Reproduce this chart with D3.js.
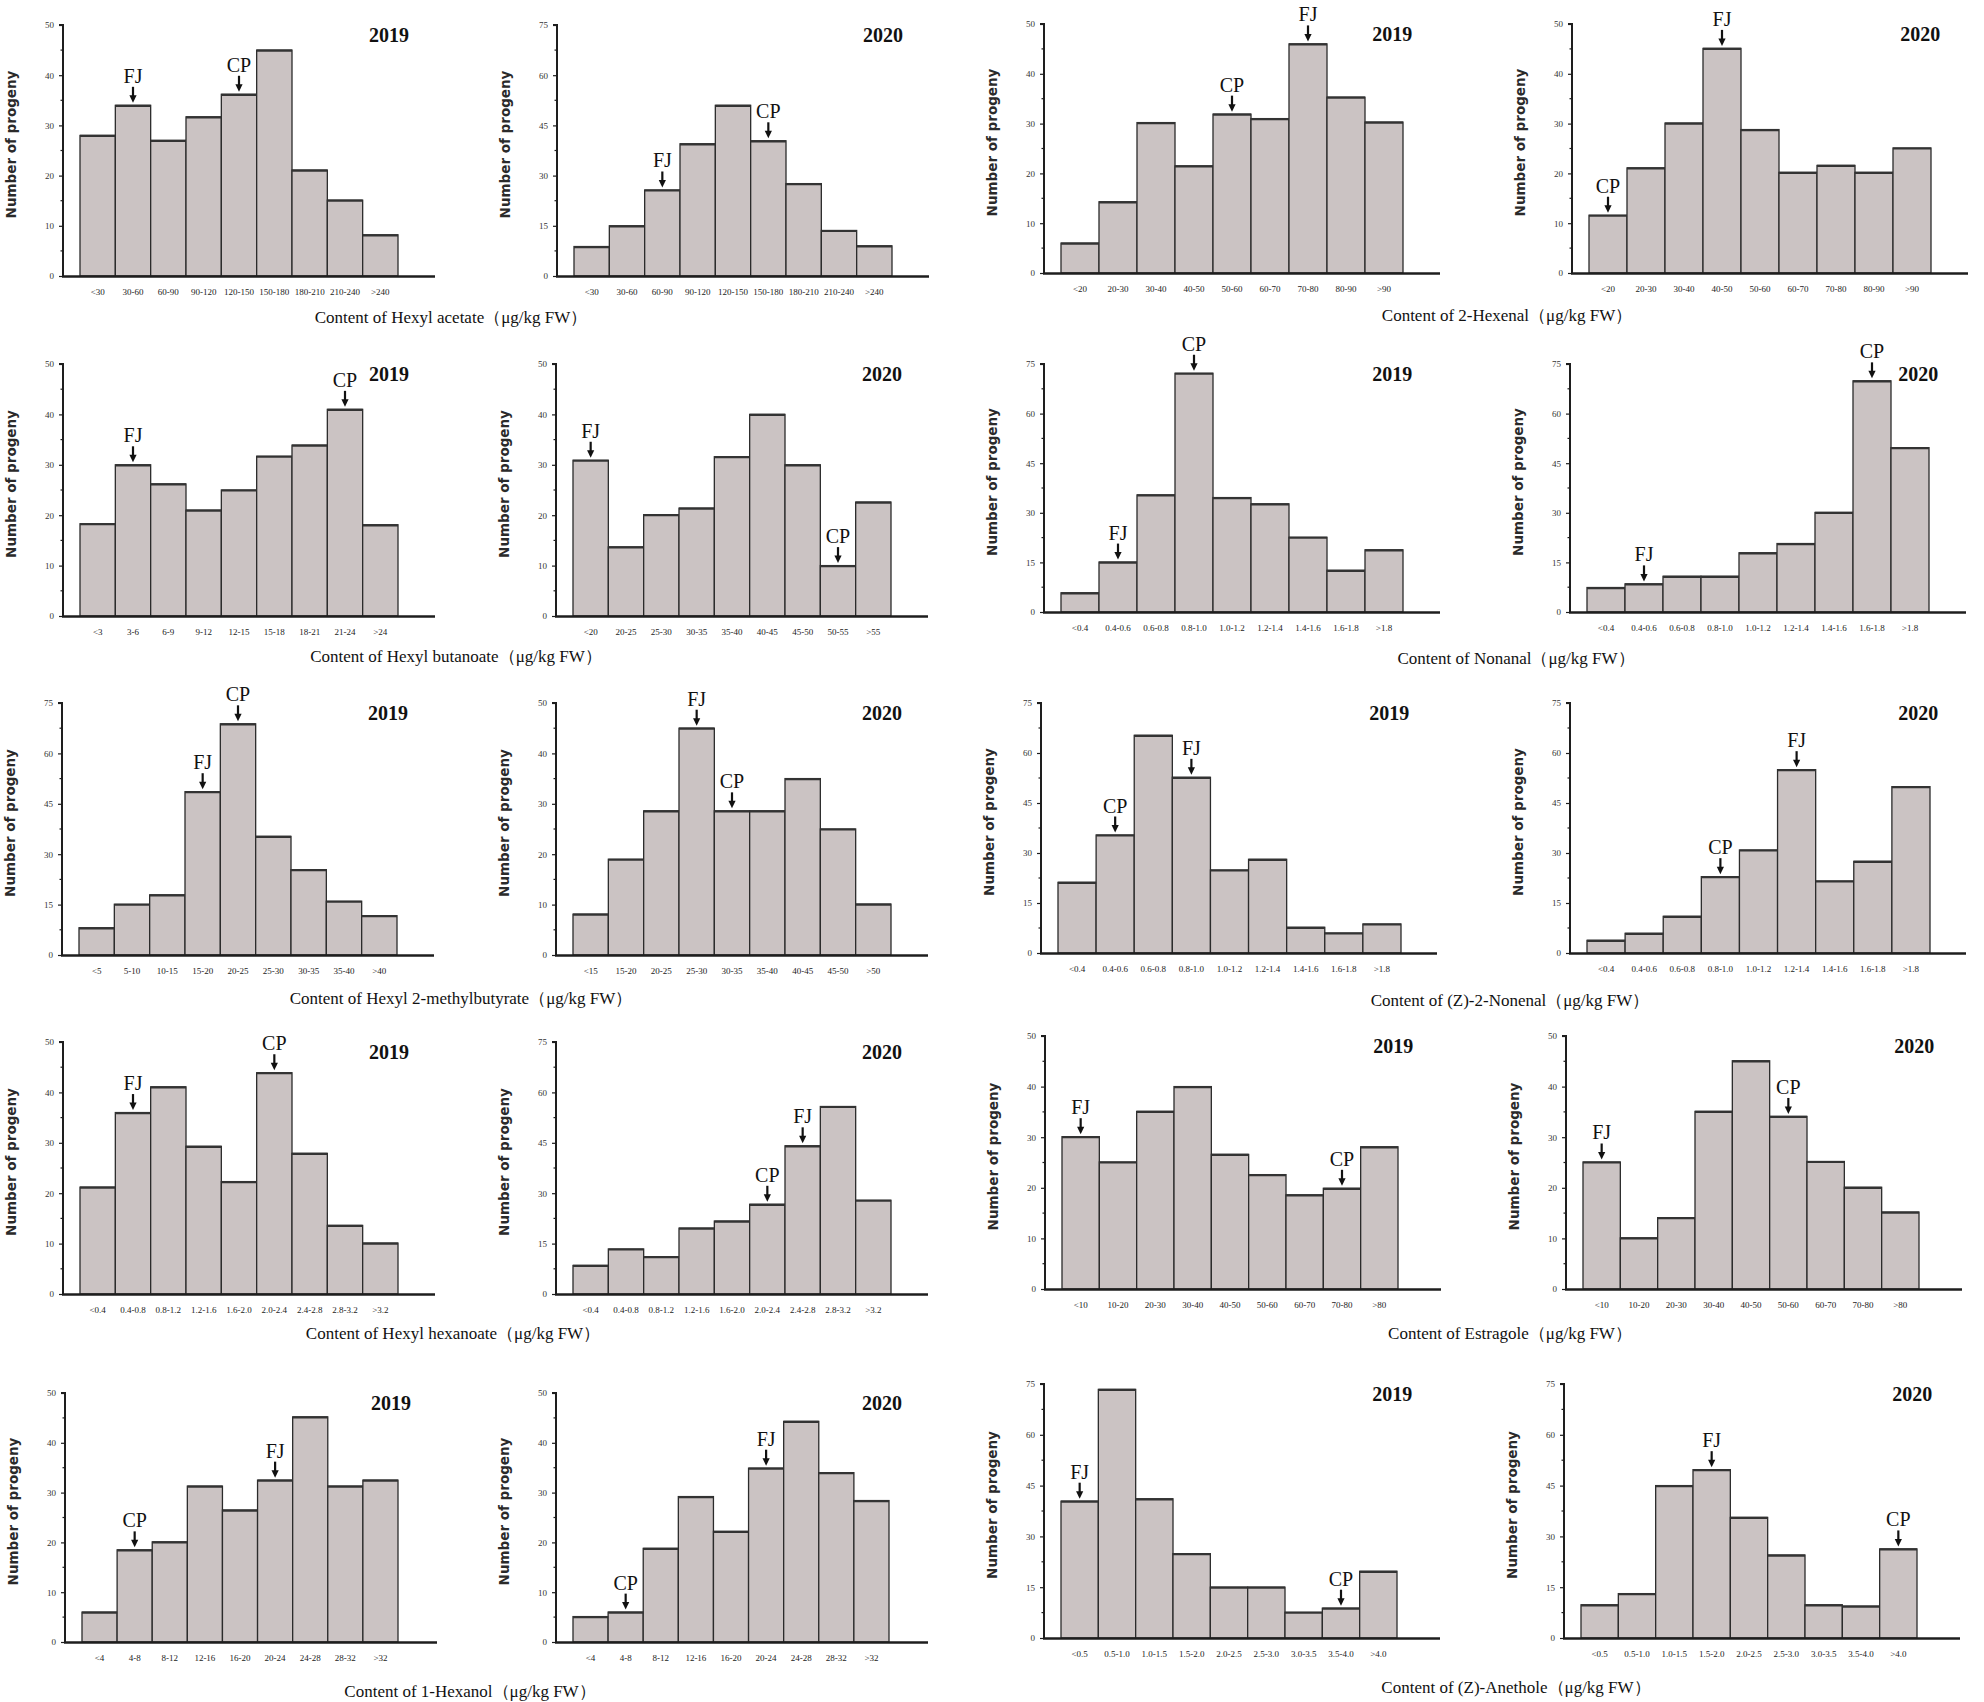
<!DOCTYPE html>
<html>
<head>
<meta charset="utf-8">
<script src="https://cdn.jsdelivr.net/npm/d3@7/dist/d3.min.js"></script>
<style>
  html, body { margin: 0; padding: 0; background: #fff; }
  svg { display: block; }
</style>
</head>
<body>
<svg id="chart" width="1984" height="1702"></svg>
<script>
// ---------------- DATA ----------------
const years = ["2019", "2020"];

const hexylAcetateBins2019 = ["<30","30-60","60-90","90-120","120-150","150-180","180-210","210-240",">240"];
const hexylAcetateBins2020 = ["<30","30-60","60-90","90-120","120-150","150-180","180-210","210-240",">240"];
const hexylAcetate2019 = [28, 34, 27, 31.7, 36.2, 45, 21.1, 15.1, 8.2];
const hexylAcetate2020 = [8.8, 15, 25.7, 39.5, 51, 40.4, 27.6, 13.6, 9];
const hexylAcetateMarks2019 = [["FJ","30-60"],["CP","120-150"]];
const hexylAcetateMarks2020 = [["FJ","60-90"],["CP","150-180"]];
const hexylAcetateMax = [50, 75];

const hexenalBins2019 = ["<20","20-30","30-40","40-50","50-60","60-70","70-80","80-90",">90"];
const hexenalBins2020 = ["<20","20-30","30-40","40-50","50-60","60-70","70-80","80-90",">90"];
const hexenal2019 = [6, 14.3, 30.2, 21.5, 31.9, 31, 46, 35.3, 30.3];
const hexenal2020 = [11.6, 21.1, 30.1, 45.1, 28.8, 20.2, 21.6, 20.2, 25.1];
const hexenalMarks2019 = [["CP","50-60"],["FJ","70-80"]];
const hexenalMarks2020 = [["CP","<20"],["FJ","40-50"]];
const hexenalMax = [50, 50];

const hexylButanoateBins2019 = ["<3","3-6","6-9","9-12","12-15","15-18","18-21","21-24",">24"];
const hexylButanoateBins2020 = ["<20","20-25","25-30","30-35","35-40","40-45","45-50","50-55",">55"];
const hexylButanoate2019 = [18.3, 30, 26.2, 21, 25, 31.7, 33.9, 41, 18.1];
const hexylButanoate2020 = [30.9, 13.7, 20.1, 21.4, 31.6, 40, 30, 10, 22.6];
const hexylButanoateMarks2019 = [["FJ","3-6"],["CP","21-24"]];
const hexylButanoateMarks2020 = [["FJ","<20"],["CP","50-55"]];
const hexylButanoateMax = [50, 50];

const nonanalBins2019 = ["<0.4","0.4-0.6","0.6-0.8","0.8-1.0","1.0-1.2","1.2-1.4","1.4-1.6","1.6-1.8",">1.8"];
const nonanalBins2020 = ["<0.4","0.4-0.6","0.6-0.8","0.8-1.0","1.0-1.2","1.2-1.4","1.4-1.6","1.6-1.8",">1.8"];
const nonanal2019 = [5.8, 15.1, 35.4, 72.2, 34.6, 32.7, 22.6, 12.6, 18.8];
const nonanal2020 = [7.4, 8.5, 10.8, 10.8, 17.9, 20.7, 30.1, 69.9, 49.7];
const nonanalMarks2019 = [["FJ","0.4-0.6"],["CP","0.8-1.0"]];
const nonanalMarks2020 = [["FJ","0.4-0.6"],["CP","1.6-1.8"]];
const nonanalMax = [75, 75];

const hexylMethylbutyrateBins2019 = ["<5","5-10","10-15","15-20","20-25","25-30","30-35","35-40",">40"];
const hexylMethylbutyrateBins2020 = ["<15","15-20","20-25","25-30","30-35","35-40","40-45","45-50",">50"];
const hexylMethylbutyrate2019 = [8.1, 15.1, 17.9, 48.6, 68.8, 35.3, 25.4, 16, 11.7];
const hexylMethylbutyrate2020 = [8.1, 19, 28.6, 45, 28.6, 28.6, 35, 25, 10.1];
const hexylMethylbutyrateMarks2019 = [["FJ","15-20"],["CP","20-25"]];
const hexylMethylbutyrateMarks2020 = [["FJ","25-30"],["CP","30-35"]];
const hexylMethylbutyrateMax = [75, 50];

const nonenalBins2019 = ["<0.4","0.4-0.6","0.6-0.8","0.8-1.0","1.0-1.2","1.2-1.4","1.4-1.6","1.6-1.8",">1.8"];
const nonenalBins2020 = ["<0.4","0.4-0.6","0.6-0.8","0.8-1.0","1.0-1.2","1.2-1.4","1.4-1.6","1.6-1.8",">1.8"];
const nonenal2019 = [21.2, 35.4, 65.3, 52.7, 24.9, 28.1, 7.7, 6, 8.7];
const nonenal2020 = [3.8, 5.9, 11, 22.9, 30.9, 55, 21.6, 27.5, 49.9];
const nonenalMarks2019 = [["CP","0.4-0.6"],["FJ","0.8-1.0"]];
const nonenalMarks2020 = [["CP","0.8-1.0"],["FJ","1.2-1.4"]];
const nonenalMax = [75, 75];

const hexylHexanoateBins2019 = ["<0.4","0.4-0.8","0.8-1.2","1.2-1.6","1.6-2.0","2.0-2.4","2.4-2.8","2.8-3.2",">3.2"];
const hexylHexanoateBins2020 = ["<0.4","0.4-0.8","0.8-1.2","1.2-1.6","1.6-2.0","2.0-2.4","2.4-2.8","2.8-3.2",">3.2"];
const hexylHexanoate2019 = [21.2, 36, 41.1, 29.3, 22.3, 43.9, 27.9, 13.6, 10.1];
const hexylHexanoate2020 = [8.5, 13.4, 11.1, 19.6, 21.7, 26.7, 44.1, 55.8, 27.9];
const hexylHexanoateMarks2019 = [["FJ","0.4-0.8"],["CP","2.0-2.4"]];
const hexylHexanoateMarks2020 = [["CP","2.0-2.4"],["FJ","2.4-2.8"]];
const hexylHexanoateMax = [50, 75];

const estragoleBins2019 = ["<10","10-20","20-30","30-40","40-50","50-60","60-70","70-80",">80"];
const estragoleBins2020 = ["<10","10-20","20-30","30-40","40-50","50-60","60-70","70-80",">80"];
const estragole2019 = [30.1, 25.1, 35.1, 40, 26.6, 22.6, 18.6, 19.9, 28.1];
const estragole2020 = [25.1, 10.1, 14.1, 35.1, 45.1, 34.1, 25.2, 20.1, 15.2];
const estragoleMarks2019 = [["FJ","<10"],["CP","70-80"]];
const estragoleMarks2020 = [["FJ","<10"],["CP","50-60"]];
const estragoleMax = [50, 50];

const hexanolBins2019 = ["<4","4-8","8-12","12-16","16-20","20-24","24-28","28-32",">32"];
const hexanolBins2020 = ["<4","4-8","8-12","12-16","16-20","20-24","24-28","28-32",">32"];
const hexanol2019 = [6, 18.5, 20.1, 31.3, 26.5, 32.5, 45.2, 31.3, 32.5];
const hexanol2020 = [5.1, 6, 18.8, 29.2, 22.2, 34.9, 44.3, 34, 28.4];
const hexanolMarks2019 = [["CP","4-8"],["FJ","20-24"]];
const hexanolMarks2020 = [["CP","4-8"],["FJ","20-24"]];
const hexanolMax = [50, 50];

const anetholeBins2019 = ["<0.5","0.5-1.0","1.0-1.5","1.5-2.0","2.0-2.5","2.5-3.0","3.0-3.5","3.5-4.0",">4.0"];
const anetholeBins2020 = ["<0.5","0.5-1.0","1.0-1.5","1.5-2.0","2.0-2.5","2.5-3.0","3.0-3.5","3.5-4.0",">4.0"];
const anethole2019 = [40.4, 73.4, 41.1, 24.9, 15, 15, 7.6, 8.8, 19.7];
const anethole2020 = [9.8, 13.1, 45, 49.7, 35.6, 24.5, 9.8, 9.4, 26.3];
const anetholeMarks2019 = [["FJ","<0.5"],["CP","3.5-4.0"]];
const anetholeMarks2020 = [["FJ","1.5-2.0"],["CP",">4.0"]];
const anetholeMax = [75, 75];

const compoundTitles = [
  "Content of Hexyl acetate（μg/kg FW）",
  "Content of 2-Hexenal（μg/kg FW）",
  "Content of Hexyl butanoate（μg/kg FW）",
  "Content of Nonanal（μg/kg FW）",
  "Content of Hexyl 2-methylbutyrate（μg/kg FW）",
  "Content of (Z)-2-Nonenal（μg/kg FW）",
  "Content of Hexyl hexanoate（μg/kg FW）",
  "Content of Estragole（μg/kg FW）",
  "Content of 1-Hexanol（μg/kg FW）",
  "Content of (Z)-Anethole（μg/kg FW）"
];
const yAxisTitle = "Number of progeny";

// ---------------- assemble (order: row-major, left then right half) ----------------
const compounds = [
  { bins: [hexylAcetateBins2019, hexylAcetateBins2020], vals: [hexylAcetate2019, hexylAcetate2020], marks: [hexylAcetateMarks2019, hexylAcetateMarks2020], max: hexylAcetateMax },
  { bins: [hexenalBins2019, hexenalBins2020], vals: [hexenal2019, hexenal2020], marks: [hexenalMarks2019, hexenalMarks2020], max: hexenalMax },
  { bins: [hexylButanoateBins2019, hexylButanoateBins2020], vals: [hexylButanoate2019, hexylButanoate2020], marks: [hexylButanoateMarks2019, hexylButanoateMarks2020], max: hexylButanoateMax },
  { bins: [nonanalBins2019, nonanalBins2020], vals: [nonanal2019, nonanal2020], marks: [nonanalMarks2019, nonanalMarks2020], max: nonanalMax },
  { bins: [hexylMethylbutyrateBins2019, hexylMethylbutyrateBins2020], vals: [hexylMethylbutyrate2019, hexylMethylbutyrate2020], marks: [hexylMethylbutyrateMarks2019, hexylMethylbutyrateMarks2020], max: hexylMethylbutyrateMax },
  { bins: [nonenalBins2019, nonenalBins2020], vals: [nonenal2019, nonenal2020], marks: [nonenalMarks2019, nonenalMarks2020], max: nonenalMax },
  { bins: [hexylHexanoateBins2019, hexylHexanoateBins2020], vals: [hexylHexanoate2019, hexylHexanoate2020], marks: [hexylHexanoateMarks2019, hexylHexanoateMarks2020], max: hexylHexanoateMax },
  { bins: [estragoleBins2019, estragoleBins2020], vals: [estragole2019, estragole2020], marks: [estragoleMarks2019, estragoleMarks2020], max: estragoleMax },
  { bins: [hexanolBins2019, hexanolBins2020], vals: [hexanol2019, hexanol2020], marks: [hexanolMarks2019, hexanolMarks2020], max: hexanolMax },
  { bins: [anetholeBins2019, anetholeBins2020], vals: [anethole2019, anethole2020], marks: [anetholeMarks2019, anetholeMarks2020], max: anetholeMax }
];

// ---------------- LAYOUT ----------------
// per row: [left half, right half]
const axisX = {
  left:  [[63, 557], [63, 556], [62, 556], [63, 556], [65, 556]],
  right: [[1044, 1572], [1044, 1570], [1041, 1570], [1045, 1566], [1044, 1564]]
};
const plotTop  = { left: [25, 364, 703, 1042, 1393], right: [24, 364, 703, 1036, 1384] };
const plotZero = { left: [276, 616, 955, 1294, 1642], right: [273, 612, 953, 1289, 1638] };
const barLen   = { left: [318, 318, 318, 318, 316], right: [342, 342, 343, 336, 336] };
const xAxisLen = { left: 372, right: 396 };
const titleX   = { left: [451, 456, 461, 453, 470], right: [1507, 1516, 1510, 1510, 1516] };
const titleY   = { left: [323, 662, 1004, 1339, 1697], right: [321, 664, 1006, 1339, 1693] };

const SERIF = "'Liberation Serif', 'Times New Roman', 'DejaVu Serif', serif";
const SANS = "'DejaVu Sans', Verdana, sans-serif";
const BAR_FILL = "#cbc3c3";
const INK = "#1e1e1e";

const svg = d3.select("#chart");

function drawPanel(g, opt) {
  const { ax, top, zero, blen, alen, bins, vals, marks, ymax, year } = opt;
  const x = d3.scaleBand().domain(bins).range([ax + 17, ax + 17 + blen]).padding(0);
  const y = d3.scaleLinear().domain([0, ymax]).range([zero, top]);
  const step = ymax === 75 ? 15 : 10;
  const majors = d3.range(0, ymax + 0.001, step);
  const minors = d3.range(step / 2, ymax, step);

  // bars
  const data = bins.map((b, i) => ({ b, v: vals[i] }));
  g.selectAll("rect.bar").data(data).join("rect")
    .attr("class", "bar")
    .attr("x", d => x(d.b))
    .attr("y", d => y(d.v))
    .attr("width", x.bandwidth())
    .attr("height", d => zero - y(d.v))
    .attr("fill", BAR_FILL)
    .attr("stroke", "#2b2b2b")
    .attr("stroke-width", 1.3);
  // darker top edges
  g.selectAll("line.top").data(data).join("line")
    .attr("class", "top")
    .attr("x1", d => x(d.b)).attr("x2", d => x(d.b) + x.bandwidth())
    .attr("y1", d => y(d.v) + 0.5).attr("y2", d => y(d.v) + 0.5)
    .attr("stroke", "#333").attr("stroke-width", 2.2);

  // y axis using d3 axis
  const yAxis = d3.axisLeft(y).tickValues(majors).tickSize(4).tickPadding(4).tickFormat(d3.format("d"));
  const ya = g.append("g").attr("transform", `translate(${ax},0)`).call(yAxis);
  ya.select(".domain").attr("stroke", INK).attr("stroke-width", 2).attr("d", `M-4,${top}H0V${zero}`);
  ya.selectAll(".tick line").attr("stroke", INK).attr("stroke-width", 1.2);
  ya.selectAll(".tick text").attr("font-family", SERIF).attr("font-size", 9).attr("fill", "#333").attr("x", -9);
  ya.selectAll("line.minor").data(minors).join("line")
    .attr("class", "minor")
    .attr("x1", -2.5).attr("x2", 0)
    .attr("y1", d => y(d)).attr("y2", d => y(d))
    .attr("stroke", INK).attr("stroke-width", 1.2);

  // x axis line
  g.append("line")
    .attr("x1", ax - 1).attr("x2", ax + alen)
    .attr("y1", zero + 0.5).attr("y2", zero + 0.5)
    .attr("stroke", INK).attr("stroke-width", 2.6);

  // x tick labels
  g.selectAll("text.xt").data(bins).join("text")
    .attr("class", "xt")
    .attr("x", d => x(d) + x.bandwidth() / 2)
    .attr("y", zero + 19)
    .attr("text-anchor", "middle")
    .attr("font-family", SERIF).attr("font-size", 9).attr("fill", "#222")
    .text(d => d);

  // year label
  g.append("text")
    .attr("x", ax + alen * 0.93)
    .attr("y", top + 17)
    .attr("text-anchor", "end")
    .attr("font-family", SERIF).attr("font-size", 20).attr("font-weight", "bold")
    .attr("fill", "#111")
    .text(year);

  // y title
  g.append("text")
    .attr("transform", `translate(${ax - 47},${(top + zero) / 2 - 6}) rotate(-90)`)
    .attr("text-anchor", "middle")
    .attr("font-family", SANS).attr("font-size", 13.5).attr("font-weight", "bold")
    .attr("fill", "#2a2a2a")
    .text(yAxisTitle);

  // FJ / CP markers
  marks.forEach(([label, bin]) => {
    const i = bins.indexOf(bin);
    const cx = x(bin) + x.bandwidth() / 2;
    const tip = y(vals[i]) - 2.5;
    g.append("line")
      .attr("x1", cx).attr("x2", cx)
      .attr("y1", tip - 16).attr("y2", tip - 6)
      .attr("stroke", "#111").attr("stroke-width", 2.2);
    g.append("path")
      .attr("d", `M${cx - 3.6},${tip - 7.5}L${cx + 3.6},${tip - 7.5}L${cx},${tip}Z`)
      .attr("fill", "#111");
    g.append("text")
      .attr("x", cx).attr("y", tip - 20)
      .attr("text-anchor", "middle")
      .attr("font-family", SERIF).attr("font-size", 20)
      .attr("fill", "#111")
      .text(label);
  });
}

compounds.forEach((c, k) => {
  const row = Math.floor(k / 2);
  const side = k % 2 === 0 ? "left" : "right";
  const g = svg.append("g");
  for (let j = 0; j < 2; j++) {
    drawPanel(g.append("g"), {
      ax: axisX[side][row][j],
      top: plotTop[side][row],
      zero: plotZero[side][row],
      blen: barLen[side][row],
      alen: xAxisLen[side],
      bins: c.bins[j],
      vals: c.vals[j],
      marks: c.marks[j],
      ymax: c.max[j],
      year: years[j]
    });
  }
  g.append("text")
    .attr("x", titleX[side][row])
    .attr("y", titleY[side][row])
    .attr("text-anchor", "middle")
    .attr("font-family", SERIF).attr("font-size", 17)
    .attr("fill", "#111")
    .text(compoundTitles[k]);
});
</script>
</body>
</html>
